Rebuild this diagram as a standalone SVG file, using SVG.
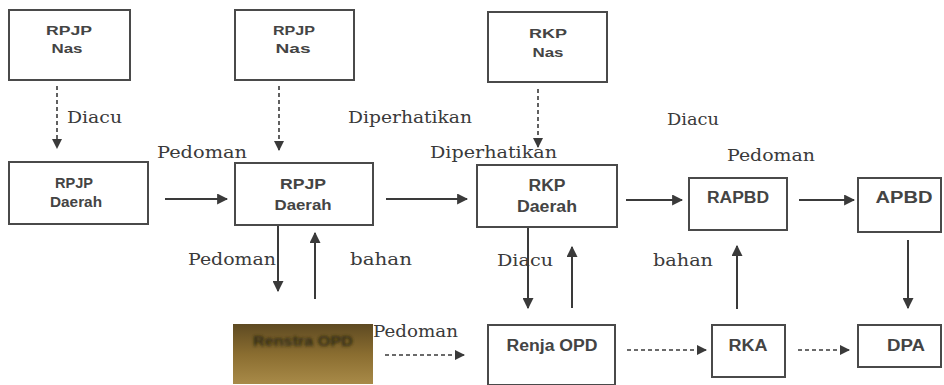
<svg xmlns="http://www.w3.org/2000/svg" width="944" height="385" viewBox="0 0 944 385">
<style>
.box{fill:#fff;stroke:#4a4a4a;stroke-width:2}
.t{font-family:"Liberation Sans",Arial,sans-serif;font-weight:bold;font-size:13px;fill:#444;text-anchor:middle}
.t2{font-size:15px}
.t3{font-size:16px}
.l{font-family:"DejaVu Serif","Liberation Serif",serif;font-size:17px;fill:#3a3a3a}
.sa{stroke:#3a3a3a;stroke-width:2;fill:none}
.da{stroke:#3a3a3a;stroke-width:1.6;fill:none;stroke-dasharray:4 3}
</style>
<defs>
<marker id="ah" viewBox="0 0 10 10" refX="9" refY="5" markerWidth="5.5" markerHeight="5.5" orient="auto" markerUnits="strokeWidth"><path d="M0,0 L10,5 L0,10 z" fill="#3a3a3a"/></marker>
<marker id="ahd" viewBox="0 0 10 10" refX="9" refY="5" markerWidth="6.5" markerHeight="6.5" orient="auto" markerUnits="strokeWidth"><path d="M0,0 L10,5 L0,10 z" fill="#3a3a3a"/></marker>
<linearGradient id="br" x1="0" y1="0" x2="0" y2="1"><stop offset="0" stop-color="#5e4a22"/><stop offset="0.5" stop-color="#8a6d30"/><stop offset="1" stop-color="#a88a48"/></linearGradient>
<filter id="bl" x="-10%" y="-50%" width="120%" height="200%"><feGaussianBlur stdDeviation="1.6"/></filter>
</defs>
<rect width="944" height="385" fill="#fff"/>

<g id="rpjp-nas-1"><rect class="box" x="9" y="10" width="121" height="70"/><text class="t" x="69" y="35" textLength="46" lengthAdjust="spacingAndGlyphs">RPJP</text><text class="t" x="67" y="53" textLength="31" lengthAdjust="spacingAndGlyphs">Nas</text></g>
<g id="rpjp-nas-2"><rect class="box" x="235" y="10" width="119" height="70"/><text class="t" x="294" y="35" textLength="42" lengthAdjust="spacingAndGlyphs">RPJP</text><text class="t" x="293" y="53" textLength="35" lengthAdjust="spacingAndGlyphs">Nas</text></g>
<g id="rkp-nas"><rect class="box" x="488" y="12" width="119" height="70"/><text class="t" x="548" y="38" textLength="38" lengthAdjust="spacingAndGlyphs">RKP</text><text class="t" x="548" y="57" textLength="31" lengthAdjust="spacingAndGlyphs">Nas</text></g>

<g id="rpjp-daerah-1"><rect class="box" x="9" y="162" width="139" height="62"/><text class="t t2" x="74" y="188" textLength="38" lengthAdjust="spacingAndGlyphs">RPJP</text><text class="t t2" x="76" y="207" textLength="52" lengthAdjust="spacingAndGlyphs">Daerah</text></g>
<g id="rpjp-daerah-2"><rect class="box" x="235" y="163" width="138" height="62"/><text class="t t2" x="303" y="189" textLength="46" lengthAdjust="spacingAndGlyphs">RPJP</text><text class="t t2" x="303" y="210" textLength="57" lengthAdjust="spacingAndGlyphs">Daerah</text></g>
<g id="rkp-daerah"><rect class="box" x="477" y="165" width="140" height="62"/><text class="t t3" x="547" y="191" textLength="37" lengthAdjust="spacingAndGlyphs" font-weight="normal">RKP</text><text class="t t3" x="547" y="212" textLength="60" lengthAdjust="spacingAndGlyphs" font-weight="normal">Daerah</text></g>
<g id="rapbd"><rect class="box" x="689" y="178" width="98" height="52"/><text class="t t3" x="738" y="203" textLength="62" lengthAdjust="spacingAndGlyphs">RAPBD</text></g>
<g id="apbd"><rect class="box" x="858" y="178" width="83" height="54"/><text class="t t3" x="904" y="203" textLength="57" lengthAdjust="spacingAndGlyphs">APBD</text></g>

<g id="renstra-opd"><rect x="233" y="324" width="140" height="60" fill="url(#br)"/><text x="303" y="346" font-family="Liberation Sans,Arial,sans-serif" font-weight="bold" font-size="15" fill="#2a2610" text-anchor="middle" filter="url(#bl)" textLength="100" lengthAdjust="spacingAndGlyphs">Renstra OPD</text></g>
<g id="renja-opd"><rect class="box" x="488" y="325" width="127" height="60"/><text class="t t3" x="552" y="351" textLength="91" lengthAdjust="spacingAndGlyphs">Renja OPD</text></g>
<g id="rka"><rect class="box" x="712" y="325" width="73" height="52"/><text class="t t3" x="748" y="351" textLength="39" lengthAdjust="spacingAndGlyphs">RKA</text></g>
<g id="dpa"><rect class="box" x="858" y="325" width="83" height="42"/><text class="t t3" x="906" y="351" textLength="38" lengthAdjust="spacingAndGlyphs">DPA</text></g>

<g id="connectors">
<line class="da" x1="57" y1="86" x2="57" y2="148" marker-end="url(#ahd)"/>
<line class="da" x1="279" y1="86" x2="279" y2="150" marker-end="url(#ahd)"/>
<line class="da" x1="538" y1="89" x2="538" y2="147" marker-end="url(#ahd)"/>
<line class="sa" x1="165" y1="199" x2="227" y2="199" marker-end="url(#ah)"/>
<line class="sa" x1="386" y1="199" x2="467" y2="199" marker-end="url(#ah)"/>
<line class="sa" x1="626" y1="200" x2="682" y2="200" marker-end="url(#ah)"/>
<line class="sa" x1="799" y1="200" x2="854" y2="200" marker-end="url(#ah)"/>
<line class="sa" x1="278" y1="226" x2="278" y2="291" marker-end="url(#ah)"/>
<line class="sa" x1="315" y1="299" x2="315" y2="233" marker-end="url(#ah)"/>
<line class="sa" x1="528" y1="228" x2="528" y2="308" marker-end="url(#ah)"/>
<line class="sa" x1="572" y1="308" x2="572" y2="247" marker-end="url(#ah)"/>
<line class="sa" x1="737" y1="309" x2="737" y2="246" marker-end="url(#ah)"/>
<line class="sa" x1="908" y1="240" x2="908" y2="308" marker-end="url(#ah)"/>
<line class="da" x1="385" y1="355" x2="464" y2="355" marker-end="url(#ahd)"/>
<line class="da" x1="627" y1="350" x2="706" y2="350" marker-end="url(#ahd)"/>
<line class="da" x1="798" y1="350" x2="849" y2="350" marker-end="url(#ahd)"/>
</g>

<g id="labels">
<text class="l" x="67" y="123" textLength="55" lengthAdjust="spacingAndGlyphs">Diacu</text>
<text class="l" x="348" y="123" textLength="124" lengthAdjust="spacingAndGlyphs">Diperhatikan</text>
<text class="l" x="667" y="125" textLength="52" lengthAdjust="spacingAndGlyphs">Diacu</text>
<text class="l" x="157" y="158" textLength="90" lengthAdjust="spacingAndGlyphs">Pedoman</text>
<text class="l" x="430" y="158" textLength="127" lengthAdjust="spacingAndGlyphs">Diperhatikan</text>
<text class="l" x="727" y="161" textLength="88" lengthAdjust="spacingAndGlyphs">Pedoman</text>
<text class="l" x="188" y="265" textLength="88" lengthAdjust="spacingAndGlyphs">Pedoman</text>
<text class="l" x="350" y="265" textLength="62" lengthAdjust="spacingAndGlyphs">bahan</text>
<text class="l" x="497" y="266" textLength="56" lengthAdjust="spacingAndGlyphs">Diacu</text>
<text class="l" x="653" y="266" textLength="60" lengthAdjust="spacingAndGlyphs">bahan</text>
<text class="l" x="373" y="337" textLength="85" lengthAdjust="spacingAndGlyphs">Pedoman</text>
</g>
</svg>
